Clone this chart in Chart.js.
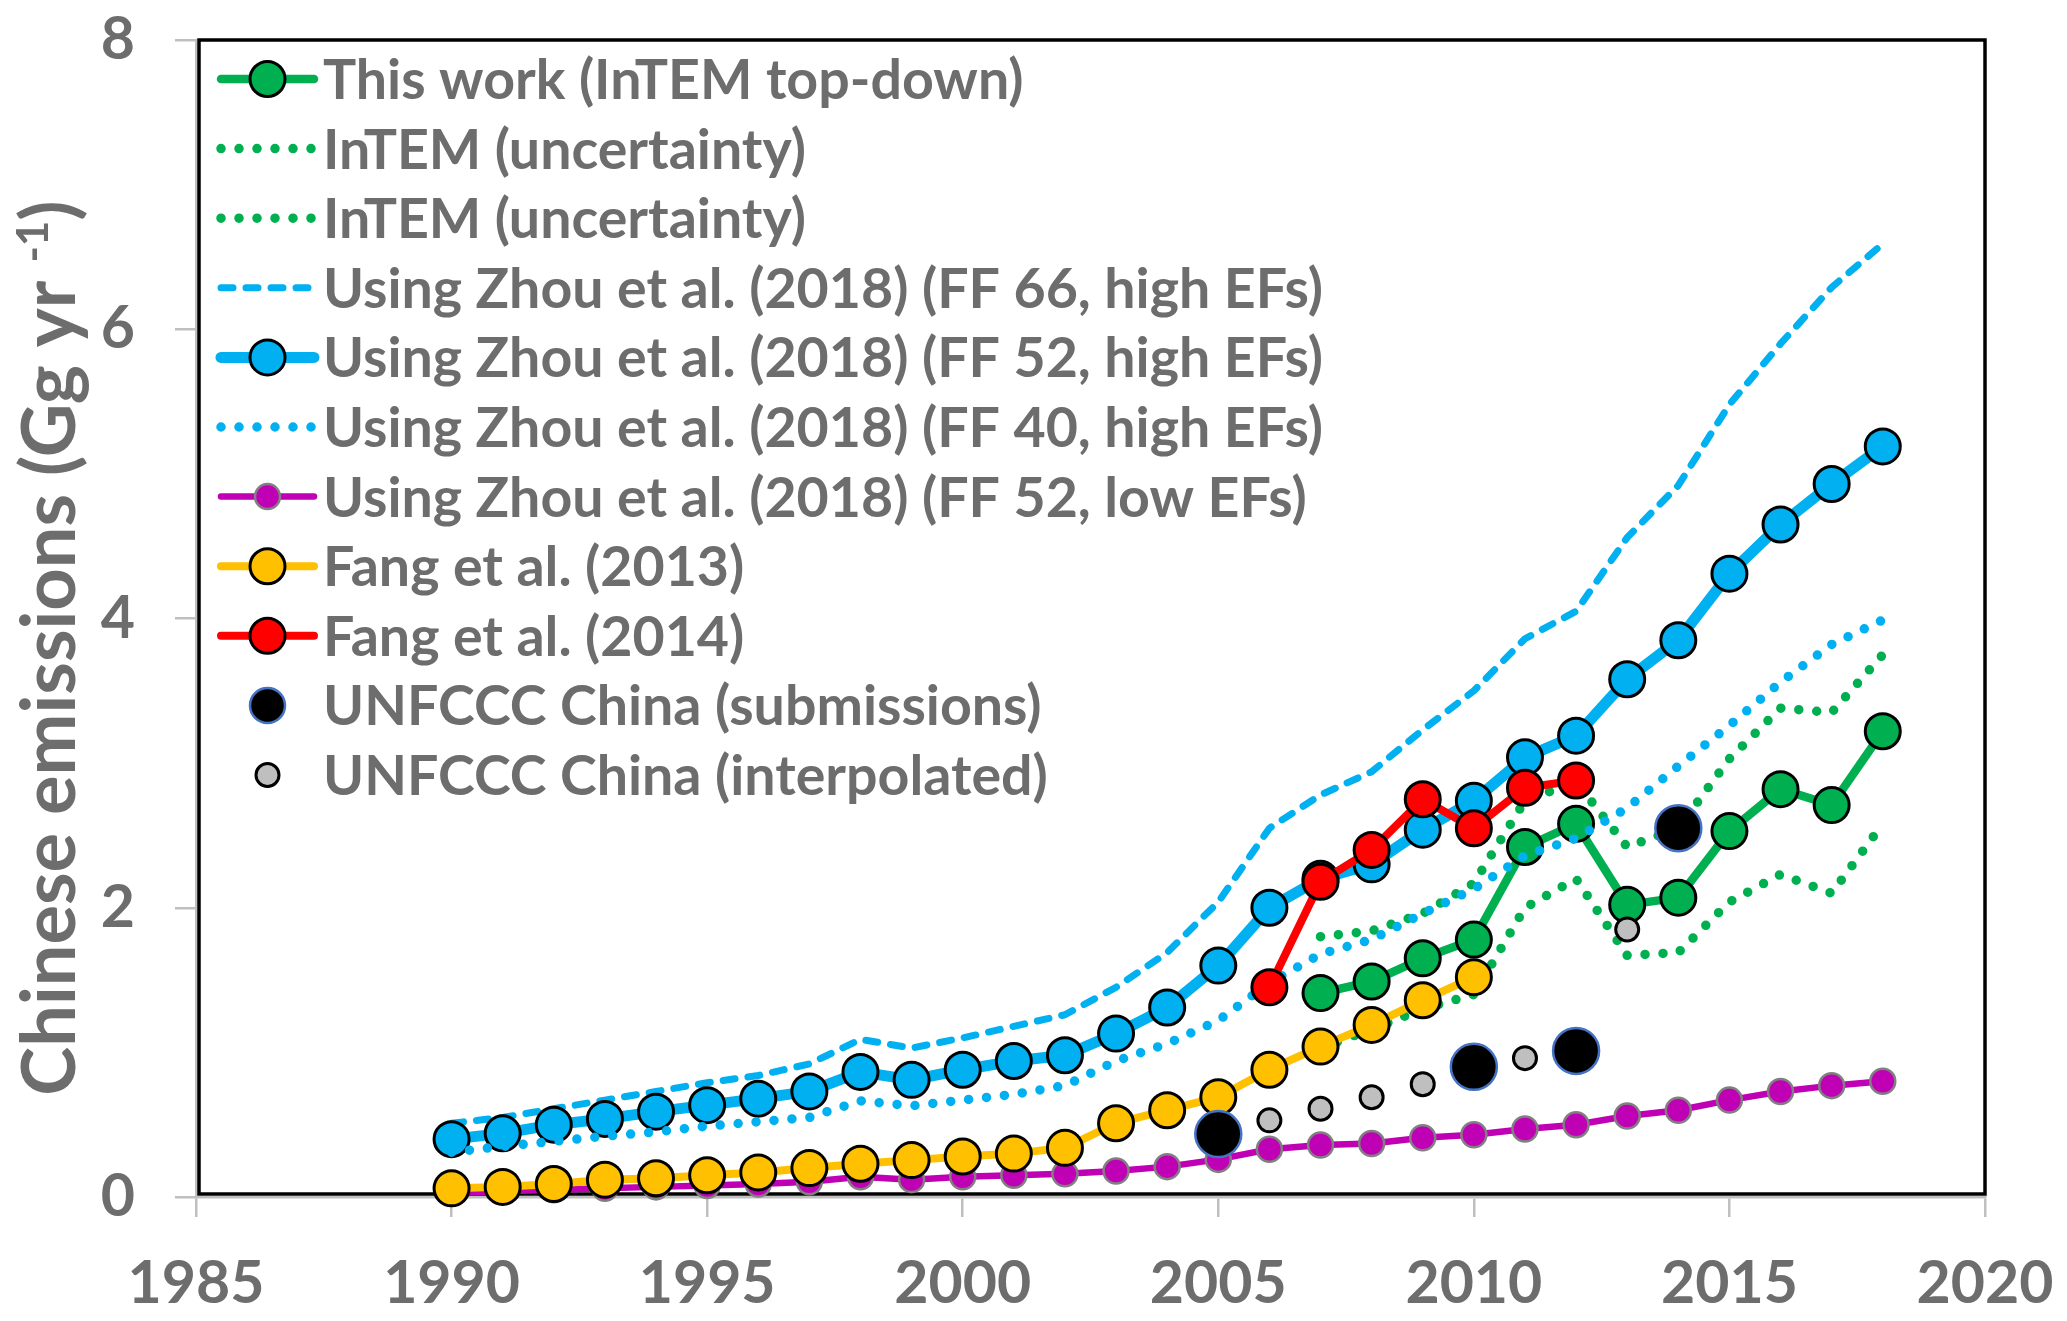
<!DOCTYPE html>
<html>
<head>
<meta charset="utf-8">
<title>Chinese emissions</title>
<script src="https://cdn.jsdelivr.net/npm/chart.js@4.4.1/dist/chart.umd.min.js"></script>
<style>
    html, body { margin: 0; padding: 0; background: #ffffff; }
    canvas { display: block; }
</style>
</head>
<body>
<canvas id="emissionsChart" width="2067" height="1321"></canvas>
<script>
// values (Gg/yr)
const years = [1990, 1991, 1992, 1993, 1994, 1995, 1996, 1997, 1998, 1999, 2000, 2001, 2002, 2003, 2004,
    2005, 2006, 2007, 2008, 2009, 2010, 2011, 2012, 2013, 2014, 2015, 2016, 2017, 2018];

const intemYears = [2007, 2008, 2009, 2010, 2011, 2012, 2013, 2014, 2015, 2016, 2017, 2018];
const thisWork   = [1.41, 1.49, 1.65, 1.78, 2.42, 2.58, 2.02, 2.07, 2.53, 2.82, 2.71, 3.22];
const intemUpper = [1.80, 1.84, 1.96, 2.17, 2.74, 2.87, 2.42, 2.55, 3.03, 3.38, 3.35, 3.75];
const intemLower = [1.03, 1.16, 1.30, 1.40, 2.00, 2.20, 1.67, 1.69, 2.04, 2.23, 2.10, 2.58];

const zhouFF66High = [0.51, 0.55, 0.61, 0.67, 0.73, 0.79, 0.84, 0.92, 1.09, 1.03, 1.10, 1.18, 1.26, 1.45, 1.69,
    2.04, 2.55, 2.78, 2.94, 3.23, 3.50, 3.86, 4.05, 4.56, 4.92, 5.48, 5.90, 6.29, 6.59];
const zhouFF52High = [0.40, 0.44, 0.50, 0.54, 0.59, 0.635, 0.68, 0.73, 0.865, 0.81, 0.88, 0.94, 0.98, 1.13, 1.31,
    1.60, 2.00, 2.20, 2.30, 2.54, 2.74, 3.04, 3.19, 3.58, 3.85, 4.31, 4.65, 4.93, 5.19];
const zhouFF40High = [0.31, 0.35, 0.385, 0.42, 0.45, 0.49, 0.52, 0.55, 0.665, 0.63, 0.67, 0.71, 0.77, 0.94, 1.06,
    1.22, 1.48, 1.68, 1.78, 1.96, 2.13, 2.36, 2.48, 2.69, 2.98, 3.26, 3.56, 3.82, 3.99];
const zhouFF52Low  = [0.03, 0.04, 0.05, 0.06, 0.07, 0.08, 0.09, 0.105, 0.14, 0.12, 0.14, 0.15, 0.16, 0.18, 0.21,
    0.26, 0.33, 0.36, 0.37, 0.41, 0.43, 0.47, 0.50, 0.56, 0.60, 0.67, 0.73, 0.77, 0.80];

const fang2013Years = [1990, 1991, 1992, 1993, 1994, 1995, 1996, 1997, 1998, 1999, 2000,
    2001, 2002, 2003, 2004, 2005, 2006, 2007, 2008, 2009, 2010];
const fang2013 = [0.06, 0.07, 0.09, 0.12, 0.13, 0.15, 0.17, 0.20, 0.23, 0.255, 0.28,
    0.30, 0.34, 0.51, 0.60, 0.69, 0.88, 1.04, 1.19, 1.36, 1.52];

const fang2014Years = [2006, 2007, 2008, 2009, 2010, 2011, 2012];
const fang2014 = [1.45, 2.18, 2.40, 2.75, 2.55, 2.83, 2.88];

const unfcccYears = [2005, 2010, 2012, 2014];
const unfccc = [0.435, 0.90, 1.01, 2.55];

const interpYears = [2006, 2007, 2008, 2009, 2011, 2013];
const interp = [0.53, 0.61, 0.69, 0.78, 0.96, 1.85];

const xTicks = [1985, 1990, 1995, 2000, 2005, 2010, 2015, 2020];
const yTicks = [0, 2, 4, 6, 8];

const yTitle = "Chinese emissions (Gg yr ";
const yTitleSup = "-1";
const yTitleEnd = ")";

const textColor = "#6d6d6d";
const fontFamily = "Lato, 'Open Sans', sans-serif";

function points(xs, ys) {
    return xs.map((x, i) => ({ x: x, y: ys[i] }));
}

function lineSeries(label, xs, ys, color, width, radius) {
    return {
        label: label,
        data: points(xs, ys),
        borderColor: color,
        borderWidth: width,
        borderCapStyle: "round",
        borderJoinStyle: "round",
        pointRadius: radius,
        pointBackgroundColor: color,
        pointBorderColor: "#000000",
        pointBorderWidth: 3,
        tension: 0
    };
}

function styledSeries(label, xs, ys, color, width, dash) {
    return {
        label: label,
        data: points(xs, ys),
        borderColor: color,
        borderWidth: width,
        borderDash: dash,
        borderCapStyle: "round",
        borderJoinStyle: "round",
        pointRadius: 0,
        tension: 0
    };
}

function markerSeries(label, xs, ys, fill, stroke, strokeWidth, radius) {
    return {
        label: label,
        data: points(xs, ys),
        showLine: false,
        borderColor: stroke,
        pointRadius: radius,
        pointBackgroundColor: fill,
        pointBorderColor: stroke,
        pointBorderWidth: strokeWidth
    };
}

const low = lineSeries("Using Zhou et al. (2018) (FF 52, low EFs)", years, zhouFF52Low, "#c000b4", 6.5, 12.5);
low.pointBorderColor = "#808080";
low.pointBorderWidth = 2.5;

const datasets = [
    lineSeries("This work (InTEM top-down)", intemYears, thisWork, "#00b050", 8.5, 17.5),
    styledSeries("InTEM (uncertainty)", intemYears, intemUpper, "#00b050", 9.5, [0, 18]),
    styledSeries("InTEM (uncertainty)", intemYears, intemLower, "#00b050", 9.5, [0, 18]),
    styledSeries("Using Zhou et al. (2018) (FF 66, high EFs)", years, zhouFF66High, "#00b0f0", 7, [12, 13]),
    lineSeries("Using Zhou et al. (2018) (FF 52, high EFs)", years, zhouFF52High, "#00b0f0", 11, 17.5),
    styledSeries("Using Zhou et al. (2018) (FF 40, high EFs)", years, zhouFF40High, "#00b0f0", 9.5, [0, 18]),
    low,
    lineSeries("Fang et al. (2013)", fang2013Years, fang2013, "#ffc000", 8, 17.5),
    lineSeries("Fang et al. (2014)", fang2014Years, fang2014, "#ff0000", 8, 17.5),
    markerSeries("UNFCCC China (submissions)", unfcccYears, unfccc, "#000000", "#4472c4", 2.5, 23),
    markerSeries("UNFCCC China (interpolated)", interpYears, interp, "#bfbfbf", "#000000", 3, 11.5)
];

// later series on top, as in the original
datasets.forEach((ds, i) => {
    ds.order = -i;
    ds.clip = false;
});

// black plot-area frame
const frame = {
    id: "frame",
    beforeDatasetsDraw(chart) {
        const { left, top, right, bottom } = chart.chartArea;
        const ctx = chart.ctx;
        ctx.save();
        ctx.strokeStyle = "#000000";
        ctx.lineWidth = 3.5;
        ctx.strokeRect(left + 3, top, right - left - 3, bottom - top - 3);
        ctx.restore();
    }
};

// rotated y title with a real superscript
const yAxisTitle = {
    id: "yAxisTitle",
    afterDraw(chart) {
        const ctx = chart.ctx;
        const big = "bold 74px " + fontFamily;
        const small = "bold 44px " + fontFamily;
        ctx.save();
        ctx.font = big;
        const w1 = ctx.measureText(yTitle).width;
        const w3 = ctx.measureText(yTitleEnd).width;
        ctx.font = small;
        const w2 = ctx.measureText(yTitleSup).width;
        const total = w1 + w2 + w3;
        ctx.translate(75, 648);
        ctx.rotate(-Math.PI / 2);
        ctx.fillStyle = textColor;
        ctx.textAlign = "left";
        ctx.textBaseline = "alphabetic";
        let x = -total / 2;
        ctx.font = big;
        ctx.fillText(yTitle, x, 0);
        x += w1;
        ctx.font = small;
        ctx.fillText(yTitleSup, x, -27);
        x += w2;
        ctx.font = big;
        ctx.fillText(yTitleEnd, x, 0);
        ctx.restore();
    }
};

// legend inside the plot, line + marker + label
const legendInside = {
    id: "legendInside",
    afterDraw(chart) {
        const ctx = chart.ctx;
        const x0 = chart.chartArea.left + 25;
        const x1 = x0 + 93;
        const cx = (x0 + x1) / 2;
        const tx = x1 + 9;

        chart.data.datasets.forEach((ds, i) => {
            const y = chart.chartArea.top + 39 + i * 69.6;
            ctx.save();
            if (ds.showLine !== false) {
                ctx.strokeStyle = ds.borderColor;
                ctx.lineWidth = ds.borderWidth;
                ctx.lineCap = "round";
                ctx.setLineDash(ds.borderDash || []);
                ctx.beginPath();
                ctx.moveTo(x0, y);
                ctx.lineTo(x1, y);
                ctx.stroke();
            }
            if (ds.pointRadius > 0) {
                ctx.setLineDash([]);
                ctx.beginPath();
                ctx.arc(cx, y, Math.min(ds.pointRadius, 17.5), 0, Math.PI * 2);
                ctx.fillStyle = ds.pointBackgroundColor;
                ctx.fill();
                ctx.lineWidth = ds.pointBorderWidth;
                ctx.strokeStyle = ds.pointBorderColor;
                ctx.stroke();
            }
            ctx.fillStyle = textColor;
            ctx.font = "bold 55.5px " + fontFamily;
            ctx.textAlign = "left";
            ctx.textBaseline = "alphabetic";
            ctx.fillText(ds.label, tx, y + 20);
            ctx.restore();
        });
    }
};

const tickFont = { family: fontFamily, size: 59, weight: "bold" };

new Chart(document.getElementById("emissionsChart"), {
    type: "line",
    data: { datasets: datasets },
    options: {
        responsive: false,
        animation: false,
        devicePixelRatio: 1,
        layout: { padding: { left: 0, right: 82, top: 40, bottom: 0 } },
        plugins: {
            legend: { display: false },
            tooltip: { enabled: false }
        },
        scales: {
            x: {
                type: "linear",
                min: 1985,
                max: 2020,
                afterBuildTicks: (scale) => { scale.ticks = xTicks.map(v => ({ value: v })); },
                afterFit: (scale) => {
                    scale.height = 124;
                    scale.paddingLeft = 0;
                    scale.paddingRight = 0;
                },
                ticks: {
                    callback: (v) => String(v),
                    font: tickFont,
                    color: textColor,
                    padding: 32,
                    maxRotation: 0,
                    autoSkip: false
                },
                grid: { drawOnChartArea: false, drawTicks: true, tickLength: 20, color: "#bfbfbf", lineWidth: 2.5 },
                border: { display: true, color: "#bfbfbf", width: 2.5 }
            },
            y: {
                min: 0,
                max: 8,
                afterBuildTicks: (scale) => { scale.ticks = yTicks.map(v => ({ value: v })); },
                afterFit: (scale) => {
                    scale.width = 196;
                    scale.paddingTop = 0;
                    scale.paddingBottom = 0;
                },
                ticks: {
                    callback: (v) => String(v),
                    font: tickFont,
                    color: textColor,
                    padding: 40
                },
                title: { display: false },
                grid: { drawOnChartArea: false, drawTicks: true, tickLength: 21, color: "#bfbfbf", lineWidth: 2.5 },
                border: { display: true, color: "#bfbfbf", width: 2.5 }
            }
        }
    },
    plugins: [frame, yAxisTitle, legendInside]
});
</script>
</body>
</html>
